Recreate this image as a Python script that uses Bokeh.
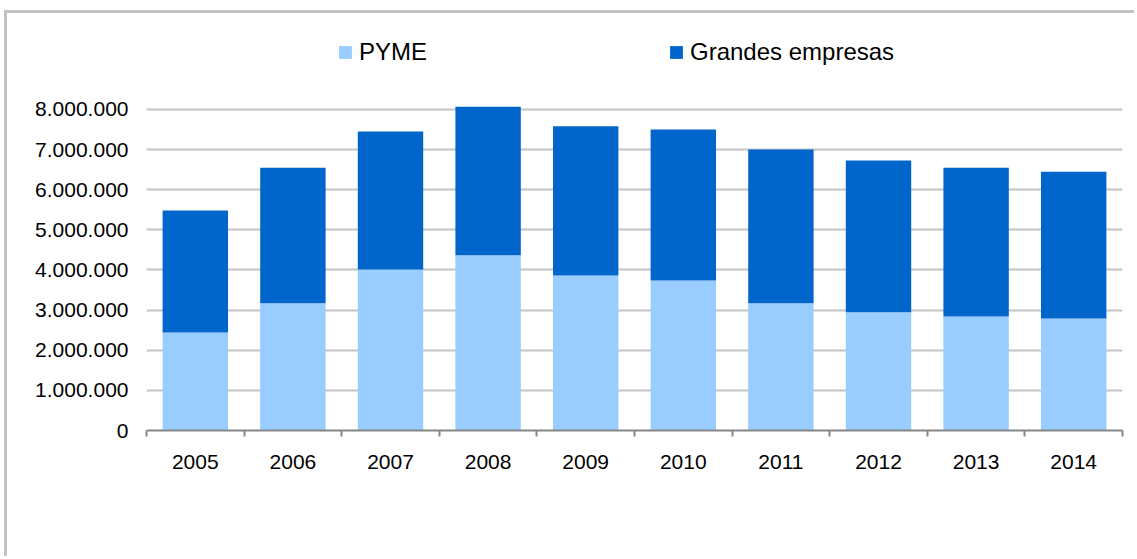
from bokeh.plotting import figure
from bokeh.models import (Range1d, LinearAxis, FixedTicker, Legend, LegendItem, Grid,
                          ColumnDataSource)
from bokeh.embed import file_html
from bokeh.resources import INLINE

# ---- data ----
years = ["2005", "2006", "2007", "2008", "2009", "2010", "2011", "2012", "2013", "2014"]
pyme = [2440000, 3170000, 4010000, 4370000, 3860000, 3740000, 3170000, 2950000, 2840000, 2790000]
grandes = [3040000, 3380000, 3440000, 3700000, 3720000, 3760000, 3830000, 3780000, 3710000, 3660000]
y_ticks = [0, 1000000, 2000000, 3000000, 4000000, 5000000, 6000000, 7000000, 8000000]
series_labels = ["PYME", "Grandes empresas"]
colors = ["#99CCFF", "#0066CC"]

FONT = "Liberation Sans"

n = len(years)
centers = [i + 0.5 for i in range(n)]
source = ColumnDataSource(dict(x=centers, year=years, pyme=pyme, grandes=grandes))

p = figure(x_range=Range1d(0, n), y_range=Range1d(0, 10093000),
           width=1130, height=546, output_backend="svg", toolbar_location=None,
           x_axis_location=None, y_axis_location=None,
           min_border_left=139, min_border_right=15, min_border_top=12, min_border_bottom=129)
p.outline_line_color = None
p.xgrid.visible = False
p.ygrid.visible = False
p.background_fill_color = "white"
p.border_fill_color = "white"
p.styles = {"border-top": "3px solid #C3C3C3", "border-left": "3px solid #C3C3C3",
            "margin-left": "4px", "margin-top": "10px"}

yticker = FixedTicker(ticks=y_ticks)
p.add_layout(Grid(dimension=1, ticker=yticker, grid_line_color="#C3C3C3", grid_line_width=2))

rs = p.vbar_stack(["pyme", "grandes"], x="x", width=0.67, color=colors,
                  line_color=None, source=source)

# y axis
yaxis = LinearAxis(ticker=yticker,
                   major_label_overrides={v: f"{v:,}".replace(",", ".") for v in y_ticks},
                   axis_line_color=None, major_tick_line_color=None, minor_tick_line_color=None,
                   major_tick_in=0, major_tick_out=0, minor_tick_in=0, minor_tick_out=0,
                   major_label_standoff=18, major_label_text_font=FONT,
                   major_label_text_font_size="21px", major_label_text_color="#000000")
p.add_layout(yaxis, "left")

# x axis line with ticks at category boundaries
edge_ticks = list(range(n + 1))
edge_axis = LinearAxis(ticker=FixedTicker(ticks=edge_ticks),
                       major_label_overrides={t: "" for t in edge_ticks},
                       axis_line_color="#868686", axis_line_width=2,
                       major_tick_line_color="#868686", major_tick_line_width=2,
                       major_tick_in=0, major_tick_out=6,
                       minor_tick_line_color=None, minor_tick_in=0, minor_tick_out=0,
                       major_label_text_font_size="1px", major_label_standoff=0)
p.add_layout(edge_axis, "below")

# year labels at category centres
cat_axis = LinearAxis(ticker=FixedTicker(ticks=centers),
                      major_label_overrides={c: y for c, y in zip(centers, years)},
                      axis_line_color=None, major_tick_line_color=None,
                      minor_tick_line_color=None, minor_tick_in=0, minor_tick_out=0,
                      major_tick_in=0, major_tick_out=0, major_label_standoff=18,
                      major_label_text_font=FONT, major_label_text_font_size="21px",
                      major_label_text_color="#000000")
p.add_layout(cat_axis, "below")

legend = Legend(items=[LegendItem(label=series_labels[0], renderers=[rs[0]]),
                       LegendItem(label=series_labels[1], renderers=[rs[1]])],
                orientation="horizontal", location=(191, 364),
                glyph_width=16, glyph_height=16, label_standoff=6, spacing=241,
                padding=0, margin=0, border_line_color=None, background_fill_alpha=0,
                label_text_font=FONT, label_text_font_size="24px", label_text_color="#000000")
p.add_layout(legend, "center")

open("out.html", "w").write(file_html(p, INLINE))
